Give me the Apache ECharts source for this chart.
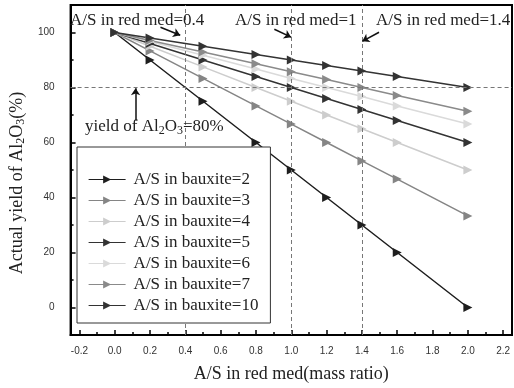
<!DOCTYPE html>
<html>
<head>
<meta charset="utf-8">
<script src="https://cdn.jsdelivr.net/npm/echarts@6/dist/echarts.min.js"></script>
<style>
  html, body { margin: 0; padding: 0; background: #fff; }
  #chart { width: 514px; height: 388px; }
</style>
</head>
<body>
<div id="chart"></div>
<script>
// 横轴：赤泥中的铝硅比
const xVals = [0, 0.2, 0.5, 0.8, 1.0, 1.2, 1.4, 1.6, 2.0];
const seriesNames = ['A/S in bauxite=2', 'A/S in bauxite=3', 'A/S in bauxite=4', 'A/S in bauxite=5',
    'A/S in bauxite=6', 'A/S in bauxite=7', 'A/S in bauxite=10'];
const seriesColors = ['#1e1e1e', '#858585', '#cdcdcd', '#333333', '#dadada', '#8a8a8a', '#333333'];

// 各铝土矿铝硅比对应的氧化铝实际产率(%)
const yieldA2 = [100, 90, 75, 60, 50, 40, 30, 20, 0];
const yieldA3 = [100, 93.3, 83.3, 73.3, 66.7, 60, 53.3, 46.7, 33.3];
const yieldA4 = [100, 95, 87.5, 80, 75, 70, 65, 60, 50];
const yieldA5 = [100, 96, 90, 84, 80, 76, 72, 68, 60];
const yieldA6 = [100, 96.7, 91.7, 86.7, 83.3, 80, 76.7, 73.3, 66.7];
const yieldA7 = [100, 97.1, 92.9, 88.6, 85.7, 82.9, 80, 77.1, 71.4];
const yieldA10 = [100, 98, 95, 92, 90, 88, 86, 84, 80];
const allYields = [yieldA2, yieldA3, yieldA4, yieldA5, yieldA6, yieldA7, yieldA10];

// 刻度
const xTicks = [-0.2, 0, 0.2, 0.4, 0.6, 0.8, 1.0, 1.2, 1.4, 1.6, 1.8, 2.0, 2.2];
const xMinorTicks = [-0.1, 0.1, 0.3, 0.5, 0.7, 0.9, 1.1, 1.3, 1.5, 1.7, 1.9, 2.1];
const yTicks = [0, 20, 40, 60, 80, 100];
const yMinorTicks = [10, 30, 50, 70, 90];

// 参考线与箭头（数据坐标）
const refX = [0.4, 1.0, 1.4];
const refY = [80];
const arrows = [
    [[0.259, 101.9], [0.371, 99.0]],
    [[0.904, 101.2], [0.999, 98.3]],
    [[1.497, 100.1], [1.402, 96.8]],
    [[0.118, 67.9], [0.118, 79.7]]
];

const serif = '"Liberation Serif", "DejaVu Serif", serif';
const sans = '"Liberation Sans", Arial, sans-serif';

function renderYieldChart(containerId) {
    const dom = document.getElementById(containerId);
    const chart = echarts.init(dom, null, { renderer: 'canvas' });

    let series = allYields.map((ys, i) => ({
        name: seriesNames[i],
        type: 'line',
        data: xVals.map((x, j) => [x, ys[j]]),
        symbol: 'triangle',
        symbolRotate: -90,
        symbolSize: 9,
        color: seriesColors[i],
        lineStyle: { width: 1.5, color: seriesColors[i] },
        itemStyle: { color: seriesColors[i] },
        z: 3
    }));

    // 虚线参考线
    series.push({
        type: 'line',
        data: [],
        silent: true,
        markLine: {
            silent: true,
            symbol: 'none',
            label: { show: false },
            lineStyle: { type: [4, 3], color: '#777', width: 1 },
            data: refX.map(v => ({ xAxis: v })).concat(refY.map(v => ({ yAxis: v })))
        }
    });
    // 标注箭头
    series.push({
        type: 'line',
        data: [],
        silent: true,
        markLine: {
            silent: true,
            symbol: ['none', 'arrow'],
            symbolSize: 7,
            label: { show: false },
            lineStyle: { type: 'solid', color: '#111', width: 1.5 },
            data: arrows.map(a => [{ coord: a[0] }, { coord: a[1] }])
        }
    });

    const option = {
        animation: false,
        grid: { left: 66, top: 5, width: 446, height: 330, show: true, borderColor: '#000', borderWidth: 2, backgroundColor: 'transparent' },
        legend: {
            data: seriesNames,
            orient: 'vertical',
            left: 77,
            top: 147,
            width: 188,
            padding: [24, 12, 9, 11],
            itemWidth: 37,
            itemHeight: 10,
            itemGap: 4,
            symbolRotate: 'inherit',
            lineStyle: { width: 1.2 },
            backgroundColor: '#fff',
            borderColor: '#333',
            borderWidth: 1,
            textStyle: { fontFamily: serif, fontSize: 17, color: '#222', padding: [0, 0, 0, 3] },
            z: 10
        },
        xAxis: [{
            type: 'value',
            min: -0.25,
            max: 2.25,
            name: 'A/S in red med(mass ratio)',
            nameLocation: 'middle',
            nameGap: 30,
            nameTextStyle: { fontFamily: serif, fontSize: 18, color: '#222' },
            axisLine: { onZero: false, lineStyle: { color: '#000', width: 2 } },
            axisTick: { inside: true, length: 5, customValues: xTicks, lineStyle: { color: '#000', width: 1.5 } },
            axisLabel: { customValues: xTicks, formatter: v => v.toFixed(1), fontFamily: sans, fontSize: 10, color: '#333', margin: 11 },
            splitLine: { show: false }
        }, {
            type: 'value',
            min: -0.25,
            max: 2.25,
            position: 'bottom',
            axisLine: { show: false, onZero: false },
            axisTick: { inside: true, length: 3, customValues: xMinorTicks, lineStyle: { color: '#000', width: 1.5 } },
            axisLabel: { show: false },
            splitLine: { show: false }
        }],
        yAxis: [{
            type: 'value',
            min: -10,
            max: 110,
            name: 'Actual yield of Al{s|2}O{s|3}(%)',
            nameLocation: 'middle',
            nameRotate: 90,
            nameGap: 38,
            nameTextStyle: {
                fontFamily: serif, fontSize: 18, color: '#222', padding: [0, 26, 0, 0],
                rich: { s: { fontFamily: serif, fontSize: 12, color: '#222', padding: [8, 0, 0, 0] } }
            },
            axisLine: { onZero: false, lineStyle: { color: '#000', width: 2 } },
            axisTick: { inside: true, length: 5, customValues: yTicks, lineStyle: { color: '#000', width: 1.5 } },
            axisLabel: { customValues: yTicks, fontFamily: sans, fontSize: 10, color: '#333', margin: 16 },
            splitLine: { show: false }
        }, {
            type: 'value',
            min: -10,
            max: 110,
            position: 'left',
            axisLine: { show: false, onZero: false },
            axisTick: { inside: true, length: 3, customValues: yMinorTicks, lineStyle: { color: '#000', width: 1.5 } },
            axisLabel: { show: false },
            splitLine: { show: false }
        }],
        graphic: [
            { type: 'text', left: 70, top: 12, z: 20, style: { text: 'A/S in red med=0.4', font: '17px ' + serif, fill: '#222' } },
            { type: 'text', left: 235, top: 12, z: 20, style: { text: 'A/S in red med=1', font: '17px ' + serif, fill: '#222' } },
            { type: 'text', left: 376, top: 12, z: 20, style: { text: 'A/S in red med=1.4', font: '17px ' + serif, fill: '#222' } },
            {
                type: 'text', left: 85, top: 118, z: 20,
                style: {
                    text: 'yield of Al{s|2}O{s|3}=80%', font: '17px ' + serif, fill: '#222',
                    rich: { s: { fontSize: 12, fontFamily: serif, fill: '#222', padding: [8, 0, 0, 0] } }
                }
            }
        ],
        series
    };

    chart.setOption(option);
}

renderYieldChart('chart');
</script>
</body>
</html>
